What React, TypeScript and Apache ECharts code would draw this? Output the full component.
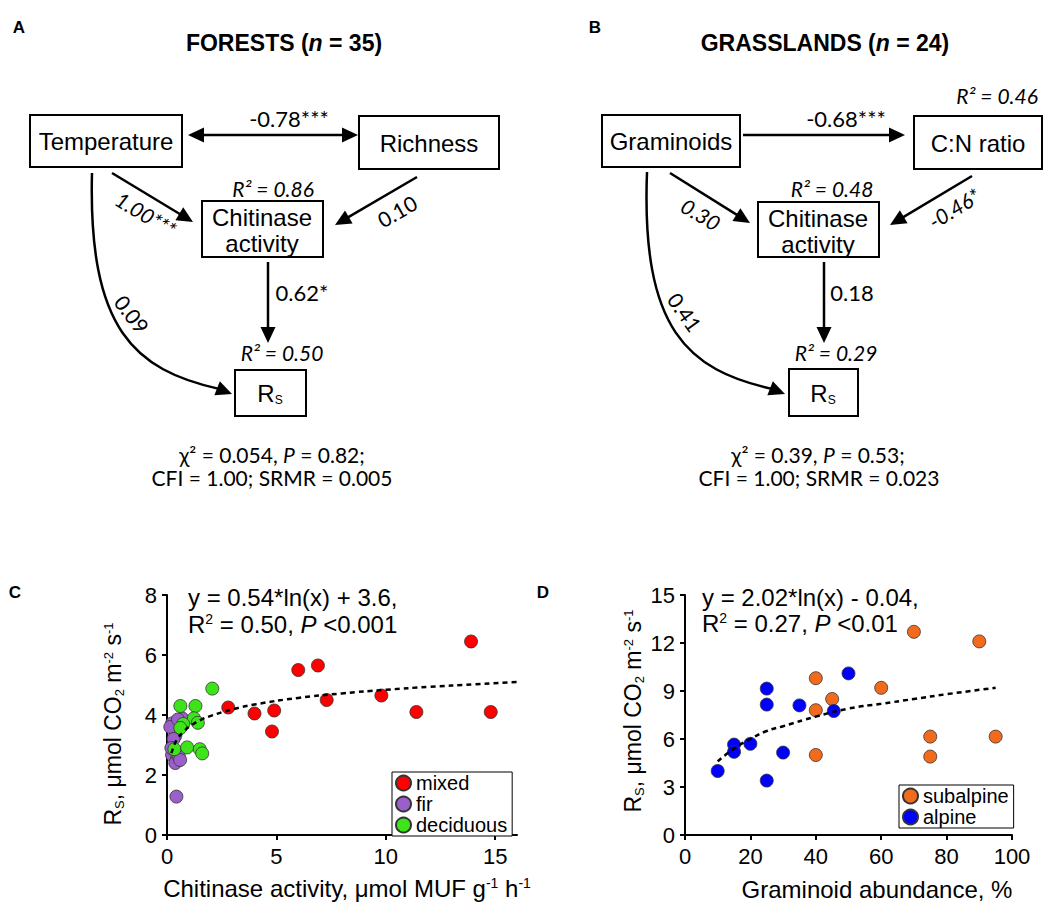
import React, { useEffect, useRef } from "react";
import * as echarts from "echarts";

// ---------- DATA ----------
// Panel C (forests): chitinase activity (x) vs soil respiration Rs (y)
const mixedX = [2.8, 4.0, 4.9, 4.8, 6.0, 6.9, 7.3, 9.8, 11.4, 13.9, 14.8];
const mixedY = [4.25, 4.05, 4.15, 3.45, 5.5, 5.65, 4.5, 4.65, 4.1, 6.45, 4.1];
const firX = [0.23, 0.69, 0.38, 0.23, 0.46, 0.38, 0.54, 0.43, 0.15, 0.3, 0.5, 0.2, 0.6];
const firY = [3.72, 3.89, 3.31, 2.67, 2.56, 2.4, 2.62, 1.28, 3.6, 3.2, 3.85, 2.9, 2.5];
const decidX = [0.61, 1.3, 2.07, 1.23, 1.41, 0.74, 0.61, 0.34, 0.92, 1.5, 1.61];
const decidY = [4.3, 4.3, 4.88, 3.89, 3.74, 3.7, 3.57, 2.86, 2.92, 2.86, 2.72];
const trendCX = [0.2, 0.35, 0.5, 0.75, 1, 1.5, 2, 3, 4, 6, 8, 10, 12, 14, 16];
const trendCY = [2.73, 3.03, 3.23, 3.44, 3.6, 3.82, 3.97, 4.19, 4.35, 4.57, 4.72, 4.84, 4.94, 5.02, 5.1];

// Panel D (grasslands): graminoid abundance (x) vs Rs (y)
const subX = [70, 90, 40, 60, 45, 40, 75, 95, 75, 40];
const subY = [12.7, 12.1, 9.8, 9.2, 8.5, 7.8, 6.15, 6.15, 4.9, 5.0];
const alpX = [50, 25, 25, 35, 45.5, 15, 15, 20, 30, 10, 25];
const alpY = [10.1, 9.15, 8.15, 8.1, 7.75, 5.65, 5.2, 5.7, 5.15, 4.0, 3.4];
const trendDX = [10, 15, 20, 25, 30, 40, 50, 60, 70, 80, 95];
const trendDY = [4.6, 5.4, 6.0, 6.5, 6.8, 7.4, 7.9, 8.2, 8.5, 8.8, 9.2];

// Tick labels
const xTicksC = [0, 5, 10, 15];
const legendC = ["mixed", "fir", "deciduous"];
const legendD = ["subalpine", "alpine"];

// ---------- STYLE ----------
const FONT = "'Liberation Sans', Arial, sans-serif";
const CAL = "Lato, 'Open Sans', sans-serif";

const zip = (xs: number[], ys: number[]) => xs.map((x, i) => [x, ys[i]]);

function T(x: number, y: number, text: string, o: any = {}) {
  const style: any = {
    text,
    fontSize: o.size || 21,
    fontFamily: o.family || CAL,
    fontWeight: o.weight || "normal",
    fontStyle: o.style || "normal",
    fill: "#000",
    align: o.align || "center",
    verticalAlign: "middle",
    textAlign: o.align || "center",
    textVerticalAlign: "middle",
  };
  if (o.lh) style.lineHeight = o.lh;
  if (o.rich) style.rich = o.rich;
  return { type: "text", x, y, rotation: o.rot || 0, z: 20, style };
}

function head(fx: number, fy: number, tx: number, ty: number, L = 16, W = 15) {
  const dx = tx - fx, dy = ty - fy, len = Math.hypot(dx, dy);
  const ux = dx / len, uy = dy / len;
  const bx = tx - ux * L, by = ty - uy * L;
  const nx = -uy, ny = ux;
  return {
    type: "polygon",
    z: 15,
    shape: { points: [[tx, ty], [bx + (nx * W) / 2, by + (ny * W) / 2], [bx - (nx * W) / 2, by - (ny * W) / 2]] },
    style: { fill: "#000" },
    base: [bx + ux * 2, by + uy * 2],
  };
}

function arrow(fx: number, fy: number, tx: number, ty: number, both = false) {
  const h1: any = head(fx, fy, tx, ty);
  const els: any[] = [];
  let sx = fx, sy = fy;
  if (both) {
    const h0: any = head(tx, ty, fx, fy);
    sx = h0.base[0]; sy = h0.base[1];
    delete h0.base;
    els.push(h0);
  }
  const [ex, ey] = h1.base;
  delete h1.base;
  els.push({ type: "line", z: 15, shape: { x1: sx, y1: sy, x2: ex, y2: ey }, style: { stroke: "#000", lineWidth: 2.5 } });
  els.push(h1);
  return els;
}

function curve(x1: number, y1: number, c1x: number, c1y: number, c2x: number, c2y: number, tx: number, ty: number) {
  const h: any = head(c2x, c2y - 14, tx, ty);
  const [ex, ey] = h.base;
  delete h.base;
  return [
    { type: "bezierCurve", z: 15, shape: { x1, y1, cpx1: c1x, cpy1: c1y, cpx2: c2x, cpy2: c2y, x2: ex, y2: ey }, style: { stroke: "#000", lineWidth: 2.5, fill: "none" } },
    h,
  ];
}

function box(x: number, y: number, w: number, h: number) {
  return { type: "rect", z: 12, shape: { x, y, width: w, height: h }, style: { fill: "#fff", stroke: "#000", lineWidth: 2 } };
}

function richSet(size: number) {
  const s = Math.round(size * 0.58);
  return {
    t: { fontSize: size, fontFamily: FONT, fill: "#000" },
    ti: { fontSize: size, fontFamily: FONT, fontStyle: "italic", fill: "#000" },
    sub: { fontSize: s, fontFamily: FONT, padding: [Math.round(size * 0.5), 0, 0, 0], fill: "#000" },
    sup: { fontSize: s, fontFamily: FONT, padding: [0, 0, Math.round(size * 0.42), 0], fill: "#000" },
  };
}
const richAnn = richSet(24);
const richAxis = richSet(23);
const richBox = {
  r: { fontSize: 24, fontFamily: FONT, fill: "#000" },
  s: { fontSize: 12, fontFamily: FONT, padding: [14, 0, 0, 0], fill: "#000" },
};
const richTitle = {
  b: { fontSize: 23, fontFamily: FONT, fontWeight: "bold", fill: "#000" },
  bi: { fontSize: 23, fontFamily: FONT, fontWeight: "bold", fontStyle: "italic", fill: "#000" },
};
const richFit = {
  c: { fontSize: 21, fontFamily: CAL, fill: "#000", lineHeight: 21 },
  ci: { fontSize: 21, fontFamily: CAL, fontStyle: "italic", fill: "#000", lineHeight: 21 },
};

function diagramA(): any[] {
  const els: any[] = [];
  els.push(T(19, 27, "A", { size: 17, family: FONT, weight: "bold" }));
  els.push(T(284, 43, "{b|FORESTS (}{bi|n}{b| = 35)}", { rich: richTitle }));
  els.push(box(30, 115, 152, 52), box(359, 116, 140, 53), box(202, 201, 121, 56), box(235, 370, 71, 46));
  els.push(T(106, 141, "Temperature", { size: 24, family: FONT }));
  els.push(T(429, 143, "Richness", { size: 24, family: FONT }));
  els.push(T(262, 217, "Chitinase", { size: 24, family: FONT }));
  els.push(T(262, 243, "activity", { size: 24, family: FONT }));
  els.push(T(270, 393, "{r|R}{s|S}", { rich: richBox }));
  els.push(...arrow(188, 135, 358, 135, true));
  els.push(...arrow(112, 173, 193, 222));
  els.push(...arrow(417, 177, 335, 225));
  els.push(...arrow(268, 262, 268, 343));
  els.push(...curve(92, 173, 88, 330, 135, 370, 232, 394));
  els.push(T(289, 118, "-0.78***", { size: 22 }));
  els.push(T(273, 188, "R² = 0.86", { style: "italic" }));
  els.push(T(146, 214, "1.00***", { rot: -0.54, style: "italic" }));
  els.push(T(397, 211, "0.10", { rot: 0.52 }));
  els.push(T(302, 292, "0.62*", { size: 22 }));
  els.push(T(282, 352, "R² = 0.50", { style: "italic" }));
  els.push(T(132, 314, "0.09", { rot: -0.92 }));
  els.push(T(272, 454, "{c|χ² = 0.054, }{ci|P}{c| = 0.82;}", { rich: richFit, lh: 21 }));
  els.push(T(272, 477, "CFI = 1.00; SRMR = 0.005", { lh: 21 }));
  return els;
}

function diagramB(): any[] {
  const els: any[] = [];
  els.push(T(595, 27, "B", { size: 17, family: FONT, weight: "bold" }));
  els.push(T(825, 43, "{b|GRASSLANDS (}{bi|n}{b| = 24)}", { rich: richTitle }));
  els.push(box(602, 115, 138, 52), box(914, 116, 128, 53), box(758, 202, 121, 55), box(789, 369, 69, 47));
  els.push(T(671, 141, "Graminoids", { size: 24, family: FONT }));
  els.push(T(978, 143, "C:N ratio", { size: 24, family: FONT }));
  els.push(T(818, 218, "Chitinase", { size: 24, family: FONT }));
  els.push(T(818, 244, "activity", { size: 24, family: FONT }));
  els.push(T(823, 393, "{r|R}{s|S}", { rich: richBox }));
  els.push(...arrow(743, 135, 905, 135));
  els.push(...arrow(670, 173, 750, 223));
  els.push(...arrow(972, 176, 890, 225));
  els.push(...arrow(824, 262, 824, 343));
  els.push(...curve(647, 172, 641, 330, 688, 370, 785, 394));
  els.push(T(846, 118, "-0.68***", { size: 22 }));
  els.push(T(997, 95, "R² = 0.46", { style: "italic" }));
  els.push(T(832, 188, "R² = 0.48", { style: "italic" }));
  els.push(T(701, 214, "0.30", { rot: -0.54, style: "italic" }));
  els.push(T(954, 208, "-0.46*", { rot: 0.55, style: "italic" }));
  els.push(T(852, 292, "0.18", { size: 22 }));
  els.push(T(836, 352, "R² = 0.29", { style: "italic" }));
  els.push(T(685, 312, "0.41", { rot: -0.95 }));
  els.push(T(818, 454, "{c|χ² = 0.39, }{ci|P}{c| = 0.53;}", { rich: richFit, lh: 21 }));
  els.push(T(819, 477, "CFI = 1.00; SRMR = 0.023", { lh: 21 }));
  return els;
}

function scatterText(): any[] {
  return [
    T(15, 592, "C", { size: 17, family: FONT, weight: "bold" }),
    T(543, 592, "D", { size: 17, family: FONT, weight: "bold" }),
    T(188, 597, "y = 0.54*ln(x) + 3.6,", { size: 24, family: FONT, align: "left", lh: 24 }),
    T(188, 624, "{t|R}{sup|2}{t| = 0.50, }{ti|P}{t| <0.001}", { align: "left", rich: richAnn }),
    T(702, 597, "y = 2.02*ln(x) - 0.04,", { size: 24, family: FONT, align: "left", lh: 24 }),
    T(702, 623, "{t|R}{sup|2}{t| = 0.27, }{ti|P}{t| <0.01}", { align: "left", rich: richAnn }),
    T(113, 724, "{t|R}{sub|S}{t|, μmol CO}{sub|2}{t| m}{sup|-2}{t| s}{sup|-1}", { rot: Math.PI / 2, rich: richAxis }),
    T(633, 711, "{t|R}{sub|S}{t|, μmol CO}{sub|2}{t| m}{sup|-2}{t| s}{sup|-1}", { rot: Math.PI / 2, rich: richAxis }),
    T(347, 888, "{t|Chitinase activity, μmol MUF g}{sup|-1}{t| h}{sup|-1}", { rich: richAnn }),
    T(877, 889, "Graminoid abundance, %", { size: 24, family: FONT }),
  ];
}

function axisCommon(extra: any) {
  return {
    type: "value",
    axisLine: { show: true, onZero: false, lineStyle: { color: "#000", width: 2 } },
    axisTick: { show: true, length: 5, lineStyle: { color: "#000", width: 2 } },
    axisLabel: { fontSize: 22, color: "#000", fontFamily: FONT, margin: 10 },
    splitLine: { show: false },
    ...extra,
  };
}

function scatterSeries(name: string, xs: number[], ys: number[], color: string, idx: number) {
  return {
    type: "scatter",
    name,
    xAxisIndex: idx,
    yAxisIndex: idx,
    symbolSize: 13,
    data: zip(xs, ys),
    itemStyle: { color, borderColor: "#333", borderWidth: 0.8, opacity: 1 },
    z: 3,
  };
}

function trendSeries(xs: number[], ys: number[], idx: number) {
  return {
    type: "line",
    xAxisIndex: idx,
    yAxisIndex: idx,
    data: zip(xs, ys),
    smooth: true,
    symbol: "none",
    showSymbol: false,
    lineStyle: { color: "#000", width: 2.5, type: [5, 4] },
    z: 6,
    silent: true,
  };
}

const legendCommon = {
  orient: "vertical",
  itemGap: 1,
  itemWidth: 15,
  itemHeight: 15,
  icon: "circle",
  padding: [1, 5, 1, 3],
  borderColor: "#000",
  borderWidth: 1,
  backgroundColor: "#fff",
  textStyle: { fontSize: 20, fontFamily: FONT, color: "#000", lineHeight: 20 },
};

export default function App() {
  const ref = useRef<HTMLDivElement>(null);
  useEffect(() => {
    if (!ref.current) return;
    const chart = echarts.init(ref.current, undefined, { renderer: "svg" });
    chart.setOption({
      animation: false,
      backgroundColor: "#fff",
      grid: [
        { left: 167, top: 595, width: 350, height: 240 },
        { left: 685, top: 595, width: 327, height: 240 },
      ],
      xAxis: [
        axisCommon({
          gridIndex: 0, min: 0, max: 16, interval: 5,
          axisTick: { show: true, length: 5, lineStyle: { color: "#000", width: 2 }, customValues: xTicksC },
          axisLabel: { fontSize: 22, color: "#000", fontFamily: FONT, margin: 10, customValues: xTicksC },
        }),
        axisCommon({ gridIndex: 1, min: 0, max: 100, interval: 20 }),
      ],
      yAxis: [
        axisCommon({ gridIndex: 0, min: 0, max: 8, interval: 2 }),
        axisCommon({ gridIndex: 1, min: 0, max: 15, interval: 3 }),
      ],
      legend: [
        { ...legendCommon, left: 392, top: 772, data: legendC },
        { ...legendCommon, left: 899, top: 785, data: legendD },
      ],
      series: [
        scatterSeries("mixed", mixedX, mixedY, "#ff0000", 0),
        scatterSeries("fir", firX, firY, "#9b5fc9", 0),
        scatterSeries("deciduous", decidX, decidY, "#3ee41a", 0),
        trendSeries(trendCX, trendCY, 0),
        scatterSeries("subalpine", subX, subY, "#f26b1d", 1),
        scatterSeries("alpine", alpX, alpY, "#0000ff", 1),
        trendSeries(trendDX, trendDY, 1),
      ],
      graphic: [...diagramA(), ...diagramB(), ...scatterText()],
    });
    return () => chart.dispose();
  }, []);
  return (
    <div
      ref={ref}
      style={{ position: "absolute", left: 0, top: 0, width: 1049, height: 903, background: "#fff" }}
    />
  );
}
